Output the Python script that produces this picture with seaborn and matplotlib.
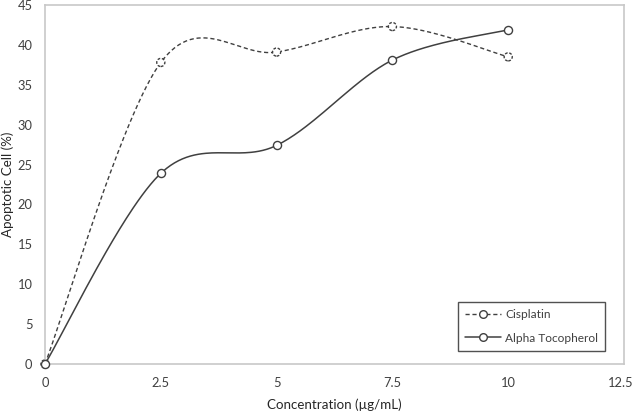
import numpy as np
import pandas as pd
import matplotlib
matplotlib.use("Agg")
import matplotlib.pyplot as plt
import matplotlib.transforms as mtransforms
import seaborn as sns
from matplotlib.lines import Line2D

concentration = [0, 2.5, 5, 7.5, 10]
cisplatin = [0, 37.8, 39.1, 42.3, 38.5]
alpha_toco = [0, 23.9, 27.4, 38.1, 41.9]
x_ticks = [0, 2.5, 5, 7.5, 10, 12.5]
x_tick_labels = ["0", "2.5", "5", "7.5", "10", "12.5"]
y_ticks = [0, 5, 10, 15, 20, 25, 30, 35, 40, 45]

sns.set_theme(style="white")
plt.rcParams['font.family'] = ['Lato', 'DejaVu Sans']


def smooth(xs, ys, n=60):
    # Excel-style smoothed line: cubic Bezier with Catmull-Rom control points
    P = np.column_stack([xs, ys]).astype(float)
    out = []
    for i in range(len(P) - 1):
        p0 = P[i - 1] if i > 0 else P[i]
        p1, p2 = P[i], P[i + 1]
        p3 = P[i + 2] if i + 2 < len(P) else P[i + 1]
        c1 = p1 + (p2 - p0) / 6.0
        c2 = p2 - (p3 - p1) / 6.0
        t = np.linspace(0, 1, n)[:, None]
        seg = ((1 - t) ** 3) * p1 + 3 * ((1 - t) ** 2) * t * c1 + 3 * (1 - t) * t ** 2 * c2 + t ** 3 * p2
        out.append(seg if i == 0 else seg[1:])
    arr = np.vstack(out)
    return arr[:, 0], arr[:, 1]


fig = plt.figure(figsize=(6.35, 4.11), dpi=100)
ax = fig.add_axes([45 / 635, 1 - 364 / 411, 579 / 635, 359 / 411])

col = "#404040"
cx, cy = smooth(concentration, cisplatin)
ax_x, ax_y = smooth(concentration, alpha_toco)
d1 = pd.DataFrame({"x": cx, "y": cy})
d2 = pd.DataFrame({"x": ax_x, "y": ax_y})
sns.lineplot(data=d1, x="x", y="y", ax=ax, color=col, lw=1.0, linestyle=(0, (3, 2)), sort=False, estimator=None)
sns.lineplot(data=d2, x="x", y="y", ax=ax, color=col, lw=1.1, sort=False, estimator=None)

pts1 = pd.DataFrame({"x": concentration, "y": cisplatin})
pts2 = pd.DataFrame({"x": concentration, "y": alpha_toco})
sns.scatterplot(data=pts1, x="x", y="y", ax=ax, s=34, facecolor="white", edgecolor=col,
                linewidth=1.0, linestyle=(0, (2, 1.2)), zorder=5, clip_on=False)
sns.scatterplot(data=pts2, x="x", y="y", ax=ax, s=34, facecolor="white", edgecolor=col,
                linewidth=1.0, zorder=5, clip_on=False)

ax.set_xlim(0, 12.5)
ax.set_ylim(0, 45)
ax.set_xticks(x_ticks)
ax.set_xticklabels(x_tick_labels)
ax.set_yticks(y_ticks)
ax.tick_params(axis="both", labelsize=9.3, colors="#404040", length=0)
ax.tick_params(axis="x", pad=9)
ax.tick_params(axis="y", pad=9)
# keep the last x tick label inside the canvas
last = ax.get_xticklabels()[-1]
last.set_transform(last.get_transform() + mtransforms.ScaledTranslation(-3 / 100, 0, fig.dpi_scale_trans))

ax.set_xlabel("Concentration (µg/mL)", fontsize=9.6, color="#262626")
ax.set_ylabel("Apoptotic Cell (%)", fontsize=9.6, color="#262626")
ax.xaxis.set_label_coords(0.5, -0.095)
ax.yaxis.set_label_coords(-0.053, 0.5)
for s in ax.spines.values():
    s.set_color("#c8c8c8")
    s.set_linewidth(1.2)

handles = [
    Line2D([0], [0], color=col, lw=1.0, linestyle=(0, (3, 2)), marker="o", markersize=5.5,
           markerfacecolor="white", markeredgecolor=col),
    Line2D([0], [0], color=col, lw=1.1, marker="o", markersize=5.5,
           markerfacecolor="white", markeredgecolor=col),
]
leg = ax.legend(handles, ["Cisplatin", "Alpha Tocopherol"], loc="lower right",
                bbox_to_anchor=(0.968, 0.037), borderaxespad=0, fontsize=8.6, frameon=True,
                fancybox=False, handlelength=3.0, borderpad=0.6, labelspacing=1.05,
                handletextpad=0.4)
leg.get_frame().set_edgecolor("#262626")
leg.get_frame().set_linewidth(1.0)
for t in leg.get_texts():
    t.set_color("#404040")

fig.savefig("out.png", dpi=100)
